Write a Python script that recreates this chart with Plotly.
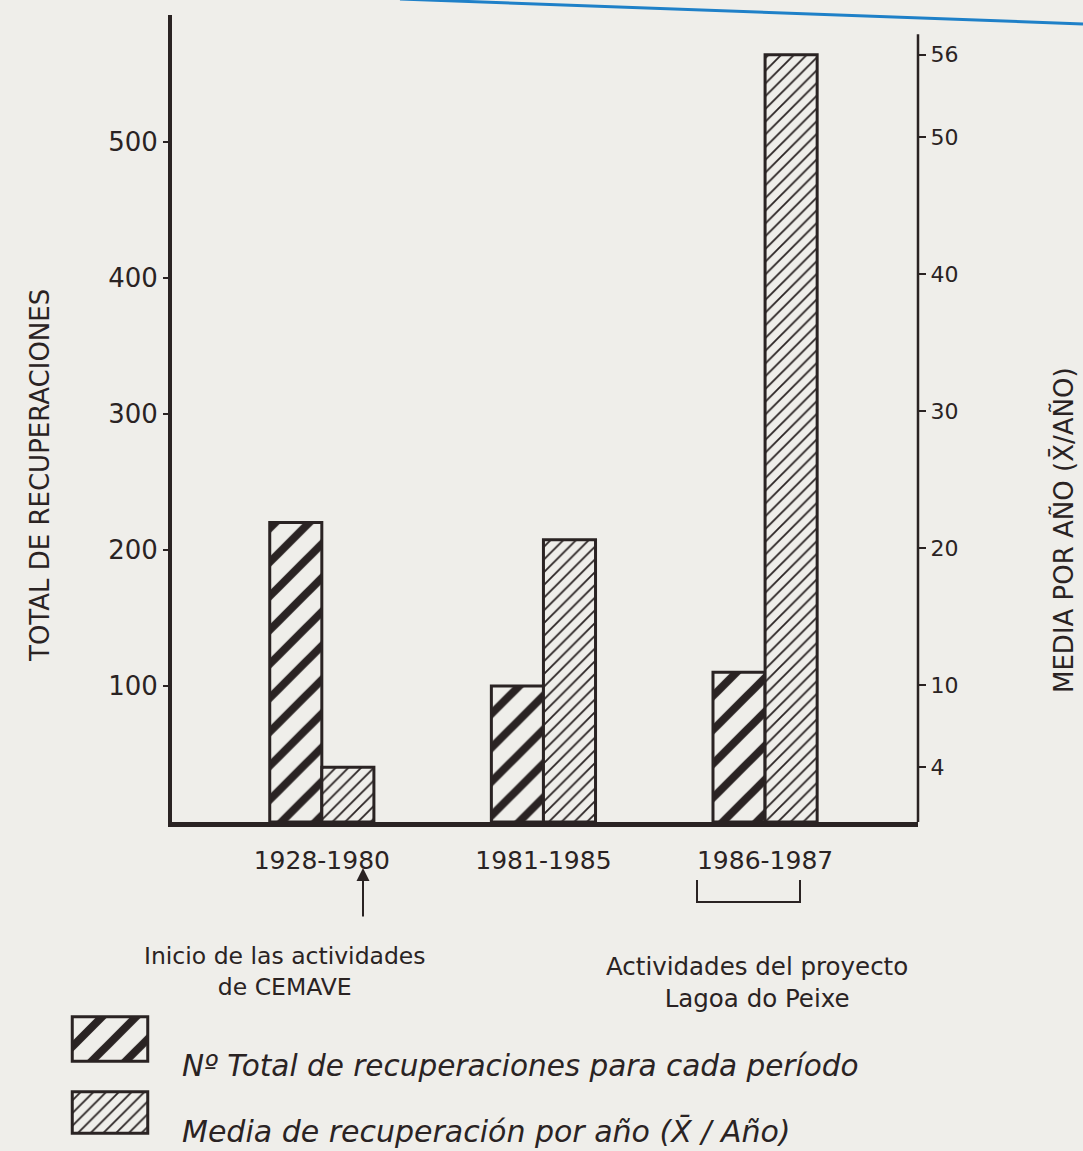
import plotly.graph_objects as go

# ---- data ----
periods = ["1928-1980", "1981-1985", "1986-1987"]
total_recoveries = [220, 100, 110]      # left axis
mean_per_year = [4, 20.6, 56]           # right axis
left_ticks = [100, 200, 300, 400, 500]
right_ticks = [4, 10, 20, 30, 40, 50, 56]
legend_labels = ["Nº Total de recuperaciones para cada período",
                 "Media de recuperación por año (X̄ / Año)"]

W, H = 1083, 1151
INK = "#2a2323"
BG = "#efeeea"
FONT = "DejaVu Sans"


def px(x):
    return x / W


def py(y):
    return 1 - y / H


X0, X1, Y0, Y1 = 172, 918, 15, 822
bw = 0.235

dense = dict(shape="/", fgcolor=INK, bgcolor=BG, size=24, solidity=0.33, fgopacity=1)
light = dict(shape="/", fgcolor=INK, bgcolor=BG, size=9, solidity=0.2, fgopacity=1)

fig = go.Figure()
fig.add_trace(go.Bar(
    x=periods, y=total_recoveries, width=bw, offset=-bw,
    marker=dict(color=BG, line=dict(color=INK, width=3), pattern=dense),
    xaxis="x", yaxis="y", name=legend_labels[0], showlegend=False))
fig.add_trace(go.Bar(
    x=periods, y=mean_per_year, width=bw, offset=0,
    marker=dict(color=BG, line=dict(color=INK, width=3), pattern=light),
    xaxis="x", yaxis="y2", name=legend_labels[1], showlegend=False))

# legend swatches (each on its own tiny axis pair)
fig.add_trace(go.Bar(x=[0], y=[1], width=1,
                     marker=dict(color=BG, line=dict(color=INK, width=3), pattern=dense),
                     xaxis="x3", yaxis="y3", showlegend=False, hoverinfo="skip"))
fig.add_trace(go.Bar(x=[0], y=[1], width=1,
                     marker=dict(color=BG, line=dict(color=INK, width=3), pattern=light),
                     xaxis="x4", yaxis="y4", showlegend=False, hoverinfo="skip"))

hidden = dict(visible=False, fixedrange=True)

fig.update_layout(
    width=W, height=H,
    margin=dict(l=0, r=0, t=0, b=0),
    paper_bgcolor=BG, plot_bgcolor=BG,
    font=dict(family=FONT, color=INK),
    barmode="overlay",
    xaxis=dict(domain=[px(X0), px(X1)], range=[-0.676, 2.69],
               type="category", categoryorder="array", categoryarray=periods,
               showline=True, linewidth=5, linecolor=INK, ticks="",
               showgrid=False, zeroline=False,
               tickfont=dict(size=25, color=INK), ticklabelstandoff=12),
    yaxis=dict(domain=[py(Y1), py(Y0)], range=[0, 593],
               showline=True, linewidth=4, linecolor=INK,
               ticks="outside", ticklen=5, tickwidth=2, tickcolor=INK,
               tickvals=left_ticks, tickfont=dict(size=26, color=INK),
               showgrid=False, zeroline=False),
    yaxis2=dict(overlaying="y", side="right", range=[0, 58.9],
                anchor="x", showline=False,
                ticks="outside", ticklen=7, tickwidth=2, tickcolor=INK,
                tickvals=right_ticks, tickfont=dict(size=22, color=INK),
                showgrid=False, zeroline=False),
    xaxis3=dict(domain=[px(70), px(150)], range=[-0.53, 0.53], anchor="y3", **hidden),
    yaxis3=dict(domain=[py(1063), py(1015)], range=[-0.04, 1.04], anchor="x3", **hidden),
    xaxis4=dict(domain=[px(70), px(150)], range=[-0.53, 0.53], anchor="y4", **hidden),
    yaxis4=dict(domain=[py(1135), py(1090)], range=[-0.04, 1.04], anchor="x4", **hidden),
)

shapes = [
    # right axis line
    dict(type="line", xref="paper", yref="y2", x0=px(X1), x1=px(X1), y0=0, y1=57.5,
         line=dict(color=INK, width=2.5)),
    # bracket under 1986-1987
    dict(type="path", xref="paper", yref="paper",
         path=f"M {px(697)} {py(880)} L {px(697)} {py(902)} L {px(800)} {py(902)} L {px(800)} {py(880)}",
         line=dict(color=INK, width=2)),
    # page edge (blue line at top of scan)
    dict(type="path", xref="paper", yref="paper",
         path=f"M {px(400)} {py(-1)} Q {px(760)} {py(12)} {px(1083)} {py(24)}",
         line=dict(color="#1f80c8", width=3)),
]
fig.update_layout(shapes=shapes)

ann = [
    dict(text="TOTAL DE RECUPERACIONES", x=px(40), y=py(476), xref="paper", yref="paper",
         xanchor="center", yanchor="middle",
         textangle=-90, showarrow=False, font=dict(size=26, color=INK)),
    dict(text="MEDIA POR AÑO (X̄/AÑO)", x=px(1063), y=py(530), xref="paper", yref="paper",
         xanchor="center", yanchor="middle",
         textangle=-90, showarrow=False, font=dict(size=26, color=INK)),
    # arrow under 1928-1980
    dict(text="", x=px(363), y=py(868), xref="paper", yref="paper",
         showarrow=True, ax=0, ay=50, arrowhead=2, arrowsize=1.3, arrowwidth=2,
         arrowcolor=INK),
    dict(text="Inicio de las actividades<br>de CEMAVE", x=px(285), y=py(971),
         xref="paper", yref="paper", xanchor="center", yanchor="middle",
         showarrow=False, align="center",
         font=dict(size=23.5, color=INK)),
    dict(text="Actividades del proyecto<br>Lagoa do Peixe", x=px(757), y=py(983),
         xref="paper", yref="paper", xanchor="center", yanchor="middle",
         showarrow=False, align="center",
         font=dict(size=24.5, color=INK)),
    dict(text=legend_labels[0], x=px(180), y=py(1066), xref="paper", yref="paper",
         xanchor="left", yanchor="middle", showarrow=False,
         font=dict(size=29.5, color=INK, style="italic")),
    dict(text=legend_labels[1], x=px(180), y=py(1131), xref="paper", yref="paper",
         xanchor="left", yanchor="middle", showarrow=False,
         font=dict(size=30, color=INK, style="italic")),
]
fig.update_layout(annotations=ann)

fig.write_html("out.html", config={"displayModeBar": False},
               post_script="document.body.style.margin='0';")
